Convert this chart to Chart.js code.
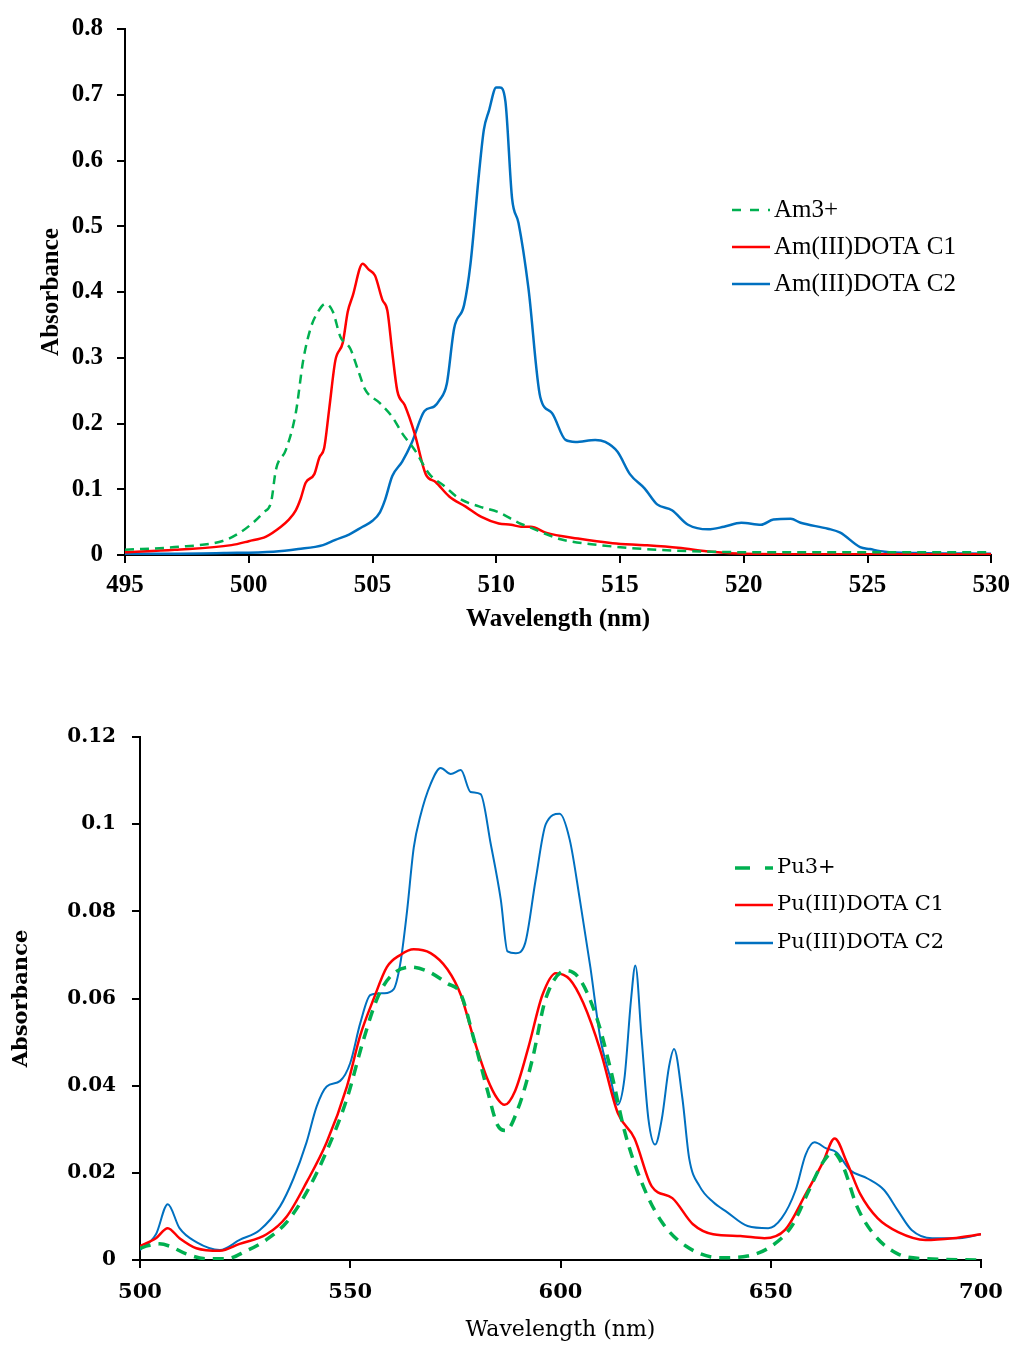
<!DOCTYPE html>
<html>
<head>
<meta charset="utf-8">
<script src="https://cdn.jsdelivr.net/npm/chart.js@4/dist/chart.umd.min.js"></script>
<style>
  html, body { margin: 0; padding: 0; background: #fff; }
  body { width: 1018px; height: 1345px; position: relative; overflow: hidden; }
  canvas { position: absolute; left: 0; }
</style>
</head>
<body>
<canvas id="top" width="1018" height="650" style="top:0px"></canvas>
<canvas id="bottom" width="1018" height="695" style="top:650px"></canvas>
<script>
// ---------- DATA: top panel (Am) ----------
const amLabels = ['Am3+', 'Am(III)DOTA C1', 'Am(III)DOTA C2'];
const amXTicks = [495, 500, 505, 510, 515, 520, 525, 530];
const amYTicks = [0, 0.1, 0.2, 0.3, 0.4, 0.5, 0.6, 0.7, 0.8];
const amYTickLabels = ['0', '0.1', '0.2', '0.3', '0.4', '0.5', '0.6', '0.7', '0.8'];
const am3 = [[495,0.008],[497,0.012],[499,0.022],[499.6,0.033],[500.2,0.05],[500.6,0.065],[500.9,0.08],[501.1,0.13],[501.5,0.16],[501.9,0.216],[502.2,0.296],[502.5,0.345],[502.8,0.37],[503.1,0.382],[503.4,0.37],[503.7,0.332],[504.1,0.314],[504.4,0.283],[504.7,0.252],[505.3,0.231],[505.8,0.21],[506.2,0.185],[506.7,0.16],[507.3,0.123],[507.9,0.105],[508.5,0.086],[509.3,0.074],[510.1,0.065],[510.9,0.049],[511.3,0.043],[512.6,0.024],[514.2,0.015],[516,0.009],[518.7,0.005],[521,0.004],[525,0.004],[530,0.004]];
const amC1 = [[495,0.004],[497,0.008],[499.3,0.015],[500,0.021],[500.7,0.028],[501.3,0.043],[501.6,0.053],[501.9,0.068],[502.1,0.086],[502.3,0.11],[502.65,0.123],[502.85,0.148],[503.05,0.163],[503.25,0.222],[503.5,0.296],[503.8,0.323],[504,0.37],[504.2,0.394],[504.6,0.443],[504.85,0.434],[505.1,0.425],[505.4,0.388],[505.6,0.372],[505.8,0.308],[506,0.25],[506.3,0.228],[506.7,0.185],[507.15,0.123],[507.55,0.111],[508.1,0.089],[508.75,0.074],[509.4,0.058],[510.1,0.048],[510.6,0.046],[511,0.043],[511.4,0.043],[512,0.034],[513.3,0.025],[514.7,0.018],[516,0.015],[517.35,0.011],[518.7,0.005],[520,0.002],[525,0.001],[530,0.001]];
const amC2 = [[495,0.002],[497,0.002],[499,0.003],[501,0.005],[502,0.009],[503,0.015],[503.5,0.023],[504.05,0.031],[504.6,0.043],[505,0.052],[505.3,0.065],[505.5,0.083],[505.8,0.12],[506.2,0.142],[506.6,0.172],[507.1,0.219],[507.5,0.226],[507.7,0.235],[508,0.26],[508.3,0.345],[508.7,0.38],[508.96,0.443],[509.3,0.579],[509.5,0.647],[509.7,0.675],[510,0.711],[510.15,0.711],[510.37,0.69],[510.64,0.542],[510.9,0.505],[511.3,0.406],[511.78,0.24],[512.25,0.216],[512.8,0.175],[513.2,0.172],[514,0.175],[514.4,0.172],[514.9,0.157],[515.4,0.123],[516,0.101],[516.5,0.077],[517.1,0.068],[517.75,0.046],[518.56,0.039],[519.2,0.043],[519.9,0.049],[520.7,0.046],[521.2,0.054],[521.9,0.055],[522.3,0.049],[523.4,0.04],[523.9,0.034],[524.7,0.012],[525.1,0.009],[525.7,0.005],[527,0.003],[530,0.002]];

// ---------- DATA: bottom panel (Pu) ----------
const puLabels = ['Pu3+', 'Pu(III)DOTA C1', 'Pu(III)DOTA C2'];
const puXTicks = [500, 550, 600, 650, 700];
const puYTicks = [0, 0.02, 0.04, 0.06, 0.08, 0.1, 0.12];
const puYTickLabels = ['0', '0.02', '0.04', '0.06', '0.08', '0.1', '0.12'];
const pu3 = [[500,0.0027],[502,0.0033],[504.6,0.0037],[507,0.0032],[511,0.0014],[515.8,0.0003],[520.5,0.0003],[525.3,0.0021],[530,0.0046],[534.9,0.0087],[539.6,0.0155],[544.4,0.025],[549.2,0.037],[553.2,0.0507],[556.4,0.06],[559.5,0.065],[564.3,0.0672],[568.3,0.0663],[573,0.0635],[576.3,0.061],[579.4,0.0507],[582.6,0.039],[585,0.031],[587,0.0297],[590,0.035],[593.3,0.046],[596.5,0.06],[601.4,0.0664],[604.6,0.0644],[608.7,0.0553],[612,0.0434],[615.2,0.0297],[619.3,0.0178],[624.1,0.0087],[629.8,0.0032],[638,0.0005],[644.5,0.0009],[650.2,0.0032],[655,0.0078],[659.1,0.016],[662.4,0.0224],[664.8,0.0247],[667.2,0.0215],[670.5,0.0123],[674.5,0.0059],[680.2,0.0014],[686.7,0.0003],[700,0]];
const puC1 = [[500,0.0032],[503.8,0.005],[506.6,0.0073],[509.4,0.005],[513.4,0.0027],[519,0.0021],[523.7,0.0037],[530.1,0.0059],[534.9,0.01],[539.6,0.0178],[544.4,0.027],[549.2,0.0398],[552.4,0.0516],[555.6,0.06],[558.7,0.0672],[561.9,0.07],[565.1,0.0713],[569.1,0.0704],[573.1,0.0667],[576.3,0.0608],[579.4,0.0507],[582.6,0.0416],[585,0.037],[586.7,0.0356],[589.2,0.0388],[592.4,0.0489],[595.7,0.0608],[598.9,0.0658],[602.2,0.0644],[605.4,0.059],[609.5,0.048],[613.6,0.0338],[617.6,0.0279],[621.7,0.0169],[626.6,0.0142],[631.5,0.0082],[636.3,0.0059],[642.8,0.0055],[648.5,0.005],[653.4,0.0069],[658.3,0.0151],[662.4,0.0224],[665.2,0.0279],[668.1,0.0224],[671.3,0.0151],[675.4,0.0096],[680.3,0.0064],[686.8,0.0046],[693.3,0.005],[700,0.0059]];
const puC2 = [[500,0.0023],[503.8,0.0059],[506.6,0.0128],[509.4,0.0073],[513.4,0.0041],[519,0.0023],[523.7,0.0046],[528.5,0.0069],[533.3,0.0123],[536.5,0.0187],[539.6,0.027],[542,0.0352],[544.4,0.0398],[547.6,0.0411],[550,0.0452],[552.4,0.0544],[554.8,0.0608],[558,0.0612],[560.3,0.0621],[561.9,0.068],[563.5,0.08],[565.1,0.0946],[566.7,0.102],[569.1,0.1092],[571.5,0.1129],[573.9,0.1115],[576.3,0.1124],[578.6,0.1074],[581,0.1069],[583.4,0.0955],[585.8,0.0827],[587.4,0.0708],[589.4,0.0704],[591.6,0.0727],[594.1,0.0873],[596.5,0.1],[599.8,0.1024],[602.2,0.0964],[604.6,0.0827],[607.1,0.0672],[609.5,0.0507],[611.9,0.0416],[613.6,0.0356],[615.2,0.0416],[616.8,0.06],[617.8,0.0676],[619.3,0.0507],[620.9,0.0324],[622.5,0.0265],[624.1,0.0324],[625.8,0.0443],[627,0.0484],[629,0.037],[630.6,0.0233],[633.1,0.0169],[636.3,0.0133],[639.6,0.011],[644.5,0.0078],[649.4,0.0073],[652.6,0.0096],[655.9,0.016],[658.3,0.0242],[660.4,0.027],[663.2,0.0256],[665.6,0.0247],[668.9,0.0206],[673,0.0187],[677,0.016],[680.2,0.0114],[683.5,0.0069],[688.4,0.005],[694.9,0.005],[700,0.0059]];

// ---------- helpers ----------
const GREEN = '#00B050', RED = '#FF0000', BLUE = '#0070C0';
const toPts = arr => arr.map(p => ({x: p[0], y: p[1]}));

const customLegend = {
  id: 'customLegend',
  afterDraw(chart, args, opts) {
    const ctx = chart.ctx;
    ctx.save();
    chart.data.datasets.forEach((ds, i) => {
      const y = opts.ys[i];
      ctx.beginPath();
      ctx.strokeStyle = ds.borderColor;
      ctx.lineWidth = opts.widths[i];
      ctx.setLineDash(i === 0 ? opts.dash : []);
      ctx.moveTo(opts.x1, y);
      ctx.lineTo(opts.x2, y);
      ctx.stroke();
      ctx.setLineDash([]);
      ctx.fillStyle = '#000';
      ctx.font = opts.font;
      ctx.textBaseline = 'middle';
      ctx.textAlign = 'left';
      ctx.fillText(ds.label, opts.tx, y);
    });
    ctx.restore();
  }
};

function makeChart(id, cfg) {
  return new Chart(document.getElementById(id), {
    type: 'line',
    data: {
      datasets: cfg.series.map((s, i) => ({
        label: cfg.labels[i],
        data: toPts(s),
        borderColor: [GREEN, RED, BLUE][i],
        borderWidth: cfg.lineWidths[i],
        borderDash: i === 0 ? cfg.dash : [],
        pointRadius: 0,
        fill: false,
        tension: 0,
        cubicInterpolationMode: 'monotone'
      }))
    },
    options: {
      responsive: false,
      animation: false,
      devicePixelRatio: 1,
      layout: { padding: cfg.padding },
      plugins: {
        legend: { display: false },
        tooltip: { enabled: false },
        customLegend: cfg.legend
      },
      scales: {
        x: {
          type: 'linear',
          min: cfg.xTicks[0],
          max: cfg.xTicks[cfg.xTicks.length - 1],
          afterBuildTicks: sc => { sc.ticks = cfg.xTicks.map(v => ({value: v})); },
          afterFit: sc => { sc.height = cfg.xHeight; },
          grid: { drawOnChartArea: false, drawTicks: true, tickLength: 8, color: '#000', lineWidth: 2 },
          border: { display: true, color: '#000', width: 2 },
          ticks: {
            color: '#000', padding: cfg.xTickPad, maxRotation: 0, autoSkip: false,
            font: { family: cfg.family, weight: 'bold', size: cfg.xTickSize },
            callback: v => String(v)
          },
          title: {
            display: true, text: 'Wavelength (nm)', color: '#000',
            font: { family: cfg.family, weight: cfg.xTitleWeight, size: cfg.xTitleSize },
            padding: { top: 0, bottom: cfg.xTitlePad }
          }
        },
        y: {
          type: 'linear',
          min: cfg.yTicks[0],
          max: cfg.yTicks[cfg.yTicks.length - 1],
          afterBuildTicks: sc => { sc.ticks = cfg.yTicks.map(v => ({value: v})); },
          afterFit: sc => { sc.width = cfg.yWidth; },
          grid: { drawOnChartArea: false, drawTicks: true, tickLength: 8, color: '#000', lineWidth: 2 },
          border: { display: true, color: '#000', width: 2 },
          ticks: {
            color: '#000', padding: cfg.yTickPad, autoSkip: false,
            font: { family: cfg.family, weight: 'bold', size: cfg.yTickSize },
            callback: (v, idx) => cfg.yTickLabels[idx]
          },
          title: {
            display: true, text: 'Absorbance', color: '#000',
            font: { family: cfg.family, weight: 'bold', size: cfg.yTitleSize },
            padding: { top: cfg.yTitlePad, bottom: 0 }
          }
        }
      }
    },
    plugins: [customLegend]
  });
}

makeChart('top', {
  series: [am3, amC1, amC2],
  labels: amLabels,
  xTicks: amXTicks, yTicks: amYTicks, yTickLabels: amYTickLabels,
  lineWidths: [2.5, 2.5, 2.5], dash: [9, 6],
  padding: { top: 25, right: 24, left: 0, bottom: 0 },
  xHeight: 95, yWidth: 125,
  family: '"Liberation Serif", "Times New Roman", serif',
  xTickSize: 25, yTickSize: 25, xTickPad: 8, yTickPad: 14,
  xTitleSize: 25, xTitleWeight: 'bold', xTitlePad: 15,
  yTitleSize: 25, yTitlePad: 37,
  legend: { x1: 732, x2: 770, tx: 774, ys: [210, 247, 284], widths: [2.5, 2.5, 2.5], dash: [9, 9],
            font: '25px "Liberation Serif", "Times New Roman", serif' }
});

makeChart('bottom', {
  series: [pu3, puC1, puC2],
  labels: puLabels,
  xTicks: puXTicks, yTicks: puYTicks, yTickLabels: puYTickLabels,
  lineWidths: [3.5, 2.5, 2], dash: [11, 8],
  padding: { top: 87, right: 37, left: 0, bottom: 0 },
  xHeight: 85, yWidth: 140,
  family: '"DejaVu Serif", serif',
  xTickSize: 21, yTickSize: 20, xTickPad: 12, yTickPad: 16,
  xTitleSize: 22, xTitleWeight: 'normal', xTitlePad: 2,
  yTitleSize: 21, yTitlePad: 9,
  legend: { x1: 735, x2: 773, tx: 777, ys: [218, 255, 293], widths: [3.5, 2.5, 2.5], dash: [15, 15],
            font: '21px "DejaVu Serif", serif' }
});
</script>
</body>
</html>
